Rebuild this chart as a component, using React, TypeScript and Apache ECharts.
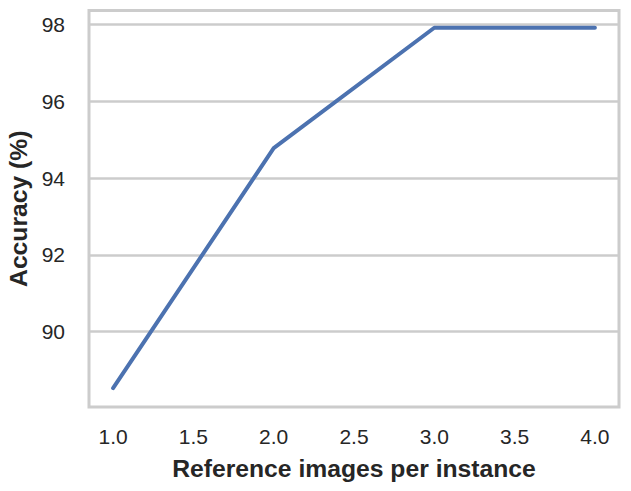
import React, { useEffect, useRef } from "react";
import * as echarts from "echarts";

const xValues = [1.0, 2.0, 3.0, 4.0];
const accuracy = [88.52, 94.78, 97.92, 97.92];
const xTicks = [1.0, 1.5, 2.0, 2.5, 3.0, 3.5, 4.0];
const yTicks = [90, 92, 94, 96, 98];

export default function App() {
  const ref = useRef<HTMLDivElement>(null);
  useEffect(() => {
    if (!ref.current) return;
    const chart = echarts.init(ref.current, undefined, { renderer: "svg" });
    const font = "'Liberation Sans', Arial, Helvetica, sans-serif";
    chart.setOption({
      animation: false,
      grid: {
        left: 89,
        right: 12,
        top: 10.5,
        bottom: 84,
        show: true,
        borderColor: "#cccccc",
        borderWidth: 3,
        backgroundColor: "#ffffff",
        outerBoundsMode: "none",
        containLabel: false,
      },
      xAxis: {
        type: "value",
        min: 0.85,
        max: 4.15,
        name: "Reference images per instance",
        nameLocation: "middle",
        nameGap: 49,
        nameTextStyle: { fontFamily: font, fontWeight: "bold", fontSize: 24.7, color: "#262626" },
        axisLine: { show: false },
        axisTick: { show: false, customValues: xTicks },
        splitLine: { show: false },
        axisLabel: {
          customValues: xTicks,
          formatter: (v: number) => v.toFixed(1),
          fontFamily: font,
          fontSize: 21,
          color: "#262626",
          margin: 19,
        },
      },
      yAxis: {
        type: "value",
        min: 88.03,
        max: 98.37,
        name: "Accuracy (%)",
        nameLocation: "middle",
        nameGap: 57,
        nameTextStyle: { fontFamily: font, fontWeight: "bold", fontSize: 24.7, color: "#262626" },
        axisLine: { show: false },
        axisTick: { show: false, customValues: yTicks },
        splitLine: { show: false },
        axisLabel: {
          customValues: yTicks,
          formatter: (v: number) => String(v),
          fontFamily: font,
          fontSize: 21,
          color: "#262626",
          margin: 24,
        },
      },
      series: [
        {
          type: "line",
          data: xValues.map((x, i) => [x, accuracy[i]]),
          showSymbol: false,
          lineStyle: { color: "#4c72b0", width: 4, cap: "round", join: "round" },
          z: 3,
          markLine: {
            silent: true,
            symbol: "none",
            label: { show: false },
            lineStyle: { color: "#cccccc", width: 2.6, type: "solid" },
            z: 1,
            data: yTicks.map((v) => ({ yAxis: v })),
          },
        },
      ],
    });
    return () => chart.dispose();
  }, []);
  return <div ref={ref} style={{ width: 631, height: 491, marginLeft: -8, marginTop: -8 }} />;
}
